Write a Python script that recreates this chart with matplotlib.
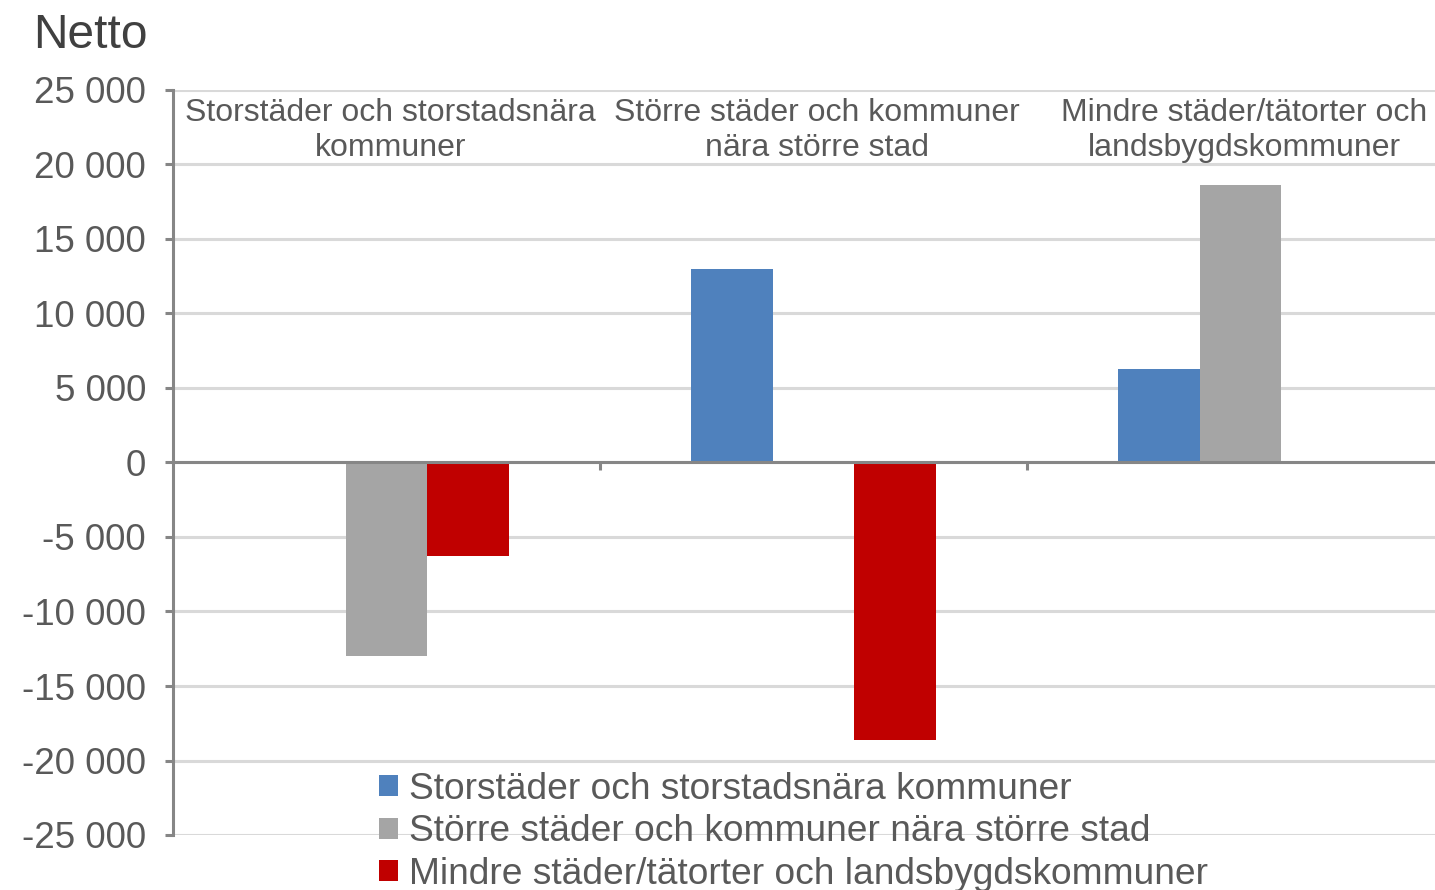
import matplotlib.pyplot as plt
import matplotlib as mpl
from matplotlib.patches import Patch
from matplotlib.ticker import FuncFormatter
import numpy as np

plt.rcParams['font.family'] = ['Liberation Sans', 'DejaVu Sans']

# data
categories = ["Storstäder och storstadsnära\nkommuner",
              "Större städer och kommuner\nnära större stad",
              "Mindre städer/tätorter och\nlandsbygdskommuner"]
series_names = ["Storstäder och storstadsnära kommuner",
                "Större städer och kommuner nära större stad",
                "Mindre städer/tätorter och landsbygdskommuner"]
storstad = [0, 13000, 6250]
storre = [-13000, 0, 18650]
mindre = [-6250, -18650, 0]
colors = ["#4F81BD", "#A5A5A5", "#C00000"]

text_col = "#595959"
fig = plt.figure(figsize=(14.35, 8.90), dpi=100)
ax = fig.add_axes([173 / 1435, 1 - 835 / 890, 1281 / 1435, 745 / 890])

x = np.arange(len(categories))
w = 0.192
for i, vals in enumerate([storstad, storre, mindre]):
    ax.bar(x + (i - 1) * w, vals, width=w, color=colors[i], zorder=3)

ax.set_xlim(-0.5, 2.5)
ax.set_ylim(-25000, 25000)
ax.set_yticks(np.arange(-25000, 25001, 5000))
ax.yaxis.set_major_formatter(FuncFormatter(lambda v, p: f"{int(v):,}".replace(",", " ")))
ax.grid(axis='y', color="#D9D9D9", lw=2.2, zorder=0)
ax.set_axisbelow(True)

for s in ['top', 'right']:
    ax.spines[s].set_visible(False)
ax.spines['left'].set_color("#868686")
ax.spines['left'].set_linewidth(2.2)
ax.spines['bottom'].set_position(('data', 0))
ax.spines['bottom'].set_color("#868686")
ax.spines['bottom'].set_linewidth(2.2)
ax.spines['bottom'].set_zorder(4)

ax.set_xticks([0.5, 1.5])
ax.set_xticklabels([])
ax.tick_params(axis='x', direction='out', length=6, width=2.2, color="#868686")
ax.tick_params(axis='y', direction='out', length=6, width=2.2, color="#868686",
               labelsize=26.5, labelcolor=text_col, pad=13.5)

# category labels sit inside the plot, at the top of each group
for i, c in enumerate(categories):
    ax.text(i + 0.009, 24450, c, ha='center', va='top', fontsize=23, color=text_col,
            linespacing=1.22, zorder=5)

fig.text(33 / 1435, 1 - 48 / 890, "Netto", fontsize=34.5, color="#404040", va='baseline')

handles = [Patch(facecolor=c, edgecolor='none') for c in colors]
fig.legend(handles, series_names, loc='upper left',
           bbox_to_anchor=(379 / 1435, 1 - 772 / 890), frameon=False,
           fontsize=26.7, labelcolor=text_col, handlelength=0.5, handleheight=0.5,
           handletextpad=0.3, labelspacing=0.2, borderpad=0, borderaxespad=0)

plt.savefig('out.png', dpi=100)
